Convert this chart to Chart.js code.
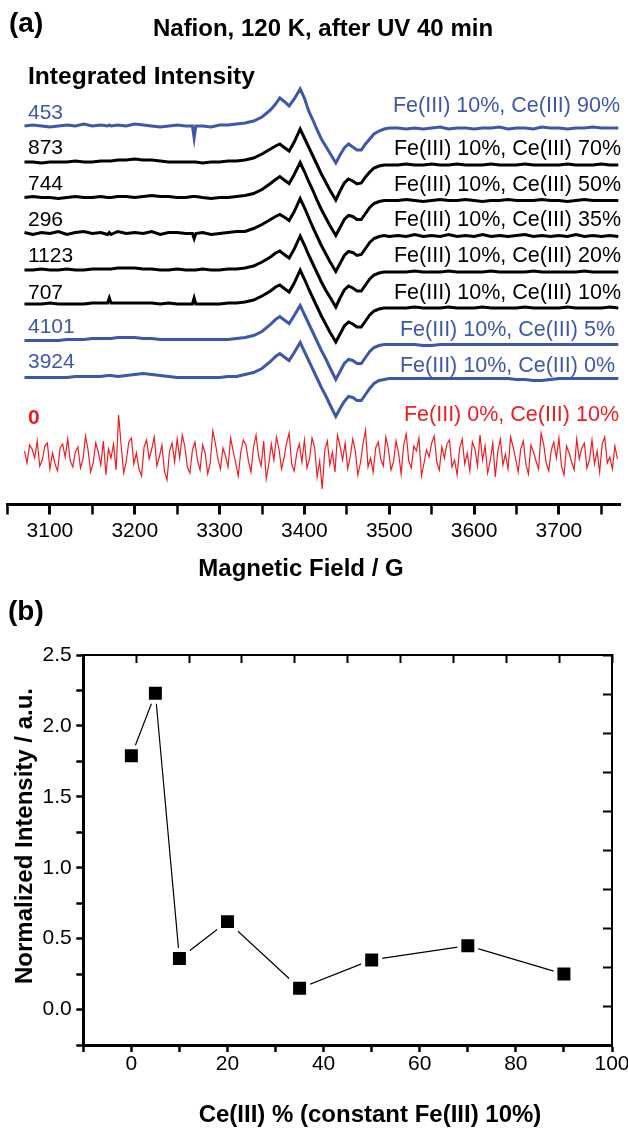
<!DOCTYPE html>
<html lang="en">
<head>
<meta charset="UTF-8">
<title>Nafion EPR</title>
<script src="https://cdn.jsdelivr.net/npm/chart.js"></script>
<style>
  body { margin: 0; background: #fff; }
  canvas { display: block; }
</style>
</head>
<body>
<canvas id="chartA" width="628" height="590"></canvas>
<canvas id="chartB" width="628" height="539"></canvas>
<script>
// ---------- panel (a): EPR spectra ----------
// magnetic field (G) of the sampled points, shared by the 8 Fe(III) traces
const field = [
  3070,3080,3090,3100,3110,3120,3130,3140,3150,3160,3168,3170,3172,3180,3190,3200,3210,3220,3230,3240,3250,3260,3268,3270,3272,3280,3290,3300,3310,3320,
  3330,3340,3350,3360,3366,3371,3377,3382,3388,3395,3400,3405,3410,3415,3420,3425,3430,3437,3442,3447,3452,3457,3462,3467,3472,3477,3482,3488,3494,3500,
  3510,3520,3530,3540,3550,3560,3570,3580,3590,3600,3610,3620,3630,3640,3650,3660,3670,3680,3690,3700,3710,3720,3730,3740,3750,3760,3770
];
// signal (relative to its own baseline)
const ce90 = [
  0,1,0,-1,0,1,0,2,0,1,0,1,0,1,0,2,1,0,-1,0,1,0,0,-12,0,0,-1,1,1,2,
  3,5,9,16,22,28,24,20,27,37,28,15,6,-4,-13,-20,-27,-37,-29,-22,-18,-21,-24,-24,-18,-13,-8,-5,-3,-2,
  -2,-3,-2,-3,-2,-1,-3,-2,-2,-3,-2,-2,-1,-3,-2,-2,-3,-1,-2,-2,-3,-2,-2,-1,-2,-2,-2
];
const ce70 = [
  0,0,-1,0,0,0,1,0,0,1,1,1,1,2,2,3,2,2,1,0,0,0,0,0,0,-1,0,0,1,1,
  2,4,8,13,16,18,14,11,20,33,24,15,6,-3,-12,-20,-28,-38,-29,-21,-17,-19,-22,-21,-15,-10,-6,-4,-3,-3,
  -3,-2,-3,-3,-2,-3,-3,-2,-3,-3,-3,-2,-3,-3,-3,-2,-3,-3,-3,-3,-2,-3,-3,-3,-2,-3,-3
];
const ce50 = [
  0,1,0,0,-1,0,1,0,0,1,0,0,0,1,1,0,1,2,1,1,0,0,1,1,1,0,-1,0,0,1,
  2,4,8,14,18,21,17,14,23,35,26,16,7,-3,-12,-20,-28,-38,-30,-22,-18,-19,-22,-22,-16,-10,-6,-4,-3,-3,
  -3,-2,-3,-4,-3,-2,-3,-3,-2,-3,-4,-3,-3,-2,-3,-3,-3,-2,-3,-3,-4,-3,-2,-3,-3,-3,-3
];
const ce35 = [
  1,-1,1,0,2,-1,1,2,0,1,-1,1,-1,2,0,1,0,2,-1,1,1,0,0,-5,0,1,-1,0,1,2,
  2,5,9,14,17,19,16,13,22,35,26,16,6,-3,-12,-20,-28,-38,-30,-22,-18,-19,-22,-21,-15,-9,-5,-3,-2,-3,
  -2,-3,-1,-3,-2,-3,-1,-3,-2,-3,-1,-3,-2,-3,-2,-1,-3,-2,-3,-2,-3,-1,-3,-2,-3,-2,-3
];
const ce20 = [
  0,0,1,0,0,1,0,0,1,1,1,1,1,2,2,2,1,1,0,0,1,0,0,0,0,1,0,0,1,1,
  2,4,8,13,17,19,15,12,21,34,25,15,6,-3,-12,-20,-27,-37,-28,-20,-16,-18,-21,-21,-15,-9,-5,-3,-2,-2,
  -2,-2,-1,-2,-2,-2,-1,-2,-2,-2,-2,-1,-2,-2,-2,-2,-1,-2,-2,-2,-2,-2,-1,-2,-2,-2,-2
];
const ce10 = [
  0,0,0,1,0,0,0,0,1,1,1,6,1,1,1,1,1,1,0,1,0,0,0,6,0,0,0,0,1,1,
  2,4,8,13,17,19,15,12,21,34,25,15,6,-3,-12,-20,-28,-38,-30,-22,-18,-20,-23,-23,-17,-11,-7,-5,-4,-4,
  -4,-4,-3,-4,-4,-4,-3,-4,-4,-4,-3,-4,-4,-4,-4,-3,-4,-4,-4,-4,-3,-4,-4,-4,-4,-3,-4
];
const ce5 = [
  0,0,0,0,0,1,1,1,2,2,2,2,2,3,3,3,2,2,1,1,1,1,1,1,1,1,1,1,1,2,
  3,5,9,16,21,24,20,17,25,35,26,17,8,-1,-10,-18,-27,-39,-31,-23,-19,-20,-23,-23,-17,-11,-7,-5,-4,-4,
  -4,-4,-4,-5,-5,-4,-4,-4,-4,-4,-4,-4,-4,-4,-4,-4,-4,-4,-4,-4,-4,-4,-4,-4,-4,-4,-4
];
const ce0 = [
  0,0,0,0,0,0,1,1,1,1,2,2,2,1,2,3,4,3,2,1,0,0,0,0,0,0,0,0,1,1,
  3,5,9,16,21,24,20,17,25,35,26,17,8,-1,-10,-18,-27,-39,-31,-24,-19,-20,-23,-23,-17,-11,-6,-3,-2,-1,
  -1,-1,-1,-1,-1,-1,-1,-1,-1,-1,-1,-1,-1,-1,-2,-2,-3,-3,-2,-1,-1,-1,-1,-1,-1,-1,-1
];
// Fe(III) 0%, Ce(III) 10%: noise only
const redField = [
  3070,3073,3076,3079,3082,3085,3088,3091,3094,3097,3100,3103,3106,3109,3112,3115,3118,3121,3124,3127,
  3130,3133,3136,3139,3142,3145,3148,3151,3154,3157,3160,3163,3166,3169,3172,3175,3178,3181,3184,3187,
  3190,3193,3196,3199,3202,3205,3208,3211,3214,3217,3220,3223,3226,3229,3232,3235,3238,3241,3244,3247,
  3250,3253,3256,3259,3262,3265,3268,3271,3274,3277,3280,3283,3286,3289,3292,3295,3298,3301,3304,3307,
  3310,3313,3316,3319,3322,3325,3328,3331,3334,3337,3340,3343,3346,3349,3352,3355,3358,3361,3364,3367,
  3370,3373,3376,3379,3382,3385,3388,3391,3394,3397,3400,3403,3406,3409,3412,3415,3418,3421,3424,3427,
  3430,3433,3436,3439,3442,3445,3448,3451,3454,3457,3460,3463,3466,3469,3472,3475,3478,3481,3484,3487,
  3490,3493,3496,3499,3502,3505,3508,3511,3514,3517,3520,3523,3526,3529,3532,3535,3538,3541,3544,3547,
  3550,3553,3556,3559,3562,3565,3568,3571,3574,3577,3580,3583,3586,3589,3592,3595,3598,3601,3604,3607,
  3610,3613,3616,3619,3622,3625,3628,3631,3634,3637,3640,3643,3646,3649,3652,3655,3658,3661,3664,3667,
  3670,3673,3676,3679,3682,3685,3688,3691,3694,3697,3700,3703,3706,3709,3712,3715,3718,3721,3724,3727,
  3730,3733,3736,3739,3742,3745,3748,3751,3754,3757,3760,3763,3766,3769
];
const fe0ce10 = [
  4,-8,10,6,-3,14,-11,-5,9,12,-14,2,-9,-16,7,11,-2,16,-6,-12,
  3,8,-13,-4,19,5,-17,-8,12,3,-10,14,-20,6,-3,11,-15,40,9,-18,
  -6,13,17,-9,2,-14,-21,8,15,-4,6,18,-11,-2,10,-16,-25,4,12,-7,
  16,-3,20,9,-12,-18,5,13,-6,-15,10,2,-19,-8,24,12,-4,-14,7,-1,
  -12,17,4,-8,-21,3,15,10,-6,-17,8,20,-2,-11,14,-24,-9,11,-5,18,
  6,-14,-3,12,22,-9,-16,2,11,-7,15,-13,-4,17,8,-22,-6,-34,5,14,
  -10,3,-17,20,9,-5,12,-14,-2,16,4,-20,-8,11,25,-12,-3,-17,7,13,
  -4,-11,18,6,-15,-7,14,2,-19,10,21,-6,-13,9,4,17,-21,-8,5,-2,
  12,19,-7,-15,8,-3,11,15,-12,-5,-20,7,16,-9,2,-16,13,6,-11,20,
  -5,9,-18,-6,12,-22,4,16,-10,1,-14,18,8,-4,-17,6,14,-9,-19,10,
  3,-6,-14,22,11,-8,-16,5,13,-3,17,-11,-20,9,2,-7,-15,16,-4,7,
  12,-13,-5,15,-9,4,-17,11,18,-8,-2,-14,9,-4
];
// vertical stacking offsets of the traces (top to bottom)
const traceOffsets = [378.5, 342.5, 307, 271, 234.5, 200.5, 164, 127, 49.5];
const intensityLabels = ['453', '873', '744', '296', '1123', '707', '4101', '3924', '0'];
const sampleLabels = [
  'Fe(III) 10%, Ce(III) 90%', 'Fe(III) 10%, Ce(III) 70%', 'Fe(III) 10%, Ce(III) 50%',
  'Fe(III) 10%, Ce(III) 35%', 'Fe(III) 10%, Ce(III) 20%', 'Fe(III) 10%, Ce(III) 10%',
  'Fe(III) 10%, Ce(III) 5%', 'Fe(III) 10%, Ce(III) 0%', 'Fe(III) 0%, Ce(III) 10%'
];

// ---------- panel (b): normalized intensity ----------
const ceContent = [0, 5, 10, 20, 35, 50, 70, 90];
const normIntensity = [1.79, 2.23, 0.36, 0.62, 0.15, 0.35, 0.45, 0.25];

// ---------- styles / layout ----------
const FONT = "'Liberation Sans', Arial, sans-serif";
const BLUE = '#3f57a8', RED = '#ed1c24', BLACK = '#000';
const traceColors = [BLUE, BLACK, BLACK, BLACK, BLACK, BLACK, BLUE, BLUE, RED];
const numberDy = [-7, -8, -7.5, -7.5, -8, -5, -7.5, -9.5, -31];
const sampleDy = [-14.5, -7.5, -7, -7.5, -8, -5, -4.5, -5.5, -34];
const sampleRight = [620, 621, 621, 621, 621, 621, 615, 615, 619];

Chart.defaults.font.family = FONT;
Chart.defaults.color = BLACK;

const spectra = [ce90, ce70, ce50, ce35, ce20, ce10, ce5, ce0];
const datasetsA = spectra.map((vals, i) => ({
  data: field.map((f, j) => ({ x: f, y: vals[j] + traceOffsets[i] })),
  borderColor: traceColors[i],
  borderWidth: 3,
  pointRadius: 0,
  tension: 0
}));
datasetsA.push({
  data: redField.map((f, j) => ({ x: f, y: fe0ce10[j] + traceOffsets[8] })),
  borderColor: RED,
  borderWidth: 1.2,
  pointRadius: 0,
  tension: 0
});

const textA = {
  id: 'textA',
  afterDraw(chart) {
    const ctx = chart.ctx;
    const y = chart.scales.y;
    ctx.save();
    ctx.fillStyle = BLACK;
    ctx.textBaseline = 'alphabetic';
    ctx.font = 'bold 28px ' + FONT;
    ctx.textAlign = 'left';
    ctx.fillText('(a)', 9, 32);
    ctx.font = 'bold 24px ' + FONT;
    ctx.textAlign = 'center';
    ctx.fillText('Nafion, 120 K, after UV 40 min', 323, 36);
    ctx.fillText('Magnetic Field / G', 301, 576);
    ctx.textAlign = 'left';
    ctx.font = 'bold 24.6px ' + FONT;
    ctx.fillText('Integrated Intensity', 28, 84);
    traceOffsets.forEach((off, i) => {
      const py = y.getPixelForValue(off);
      ctx.fillStyle = traceColors[i];
      ctx.textAlign = 'left';
      ctx.font = (i === 8 ? 'bold ' : '') + '21px ' + FONT;
      ctx.fillText(intensityLabels[i], 28, py + numberDy[i]);
      ctx.textAlign = 'right';
      ctx.font = '21.5px ' + FONT;
      ctx.fillText(sampleLabels[i], sampleRight[i], py + sampleDy[i]);
    });
    ctx.restore();
  }
};

new Chart(document.getElementById('chartA'), {
  type: 'line',
  data: { datasets: datasetsA },
  options: {
    responsive: false,
    animation: false,
    layout: { padding: { top: 60, left: 7.5, right: 8, bottom: 0 } },
    plugins: { legend: { display: false }, tooltip: { enabled: false } },
    scales: {
      x: {
        type: 'linear', min: 3050, max: 3772,
        border: { color: BLACK, width: 3 },
        grid: {
          drawOnChartArea: false, tickLength: 10, tickColor: BLACK,
          tickWidth: c => (c.tick && c.tick.value % 100 === 0 ? 3 : 2.5)
        },
        ticks: {
          stepSize: 50, includeBounds: false, autoSkip: false, maxRotation: 0,
          padding: 4, font: { size: 21 }, color: BLACK,
          callback: v => (v % 100 === 0 ? String(v) : '')
        },
        afterFit: s => { s.height = 85.5; s.paddingLeft = 0; s.paddingRight = 0; }
      },
      y: { display: false, min: 0, max: 444.5 }
    }
  },
  plugins: [textA]
});

const textB = {
  id: 'textB',
  afterDraw(chart) {
    const ctx = chart.ctx;
    ctx.save();
    ctx.fillStyle = BLACK;
    ctx.textBaseline = 'alphabetic';
    ctx.font = 'bold 28px ' + FONT;
    ctx.textAlign = 'left';
    ctx.fillText('(b)', 8, 30);
    ctx.font = 'bold 24px ' + FONT;
    ctx.textAlign = 'center';
    ctx.fillText('Ce(III) % (constant Fe(III) 10%)', 370, 532);
    ctx.translate(32, 246);
    ctx.rotate(-Math.PI / 2);
    ctx.fillText('Normalized Intensity / a.u.', 0, 0);
    ctx.restore();
  }
};

new Chart(document.getElementById('chartB'), {
  type: 'line',
  data: {
    datasets: [{
      data: ceContent.map((c, i) => ({ x: c, y: normIntensity[i] })),
      borderColor: BLACK,
      borderWidth: 1.2,
      pointStyle: 'rect',
      pointRadius: 12,
      pointBorderWidth: 4,
      pointBorderColor: '#fff',
      pointBackgroundColor: BLACK,
      tension: 0
    }]
  },
  options: {
    responsive: false,
    animation: false,
    layout: { padding: { top: 65, left: 0, right: 13.7, bottom: 0 } },
    plugins: { legend: { display: false }, tooltip: { enabled: false } },
    scales: {
      x: {
        type: 'linear', position: 'bottom', min: -10, max: 100,
        border: { color: BLACK, width: 3 },
        grid: { drawOnChartArea: false, tickLength: 7, tickWidth: 2.5, tickColor: BLACK },
        ticks: {
          stepSize: 10, autoSkip: false, maxRotation: 0, padding: 0,
          font: { size: 21 }, color: BLACK,
          callback: v => (v >= 0 && v % 20 === 0 ? String(v) : '')
        },
        afterFit: s => { s.height = 84; s.paddingLeft = 0; s.paddingRight = 0; }
      },
      xTop: {
        type: 'linear', position: 'top', min: 0, max: 10,
        border: { color: BLACK, width: 2 },
        grid: { drawOnChartArea: false, tickLength: -8, tickWidth: 2, tickColor: BLACK },
        ticks: { display: false, stepSize: 1 },
        afterFit: s => { s.height = 0; }
      },
      y: {
        position: 'left', min: -0.25, max: 2.5,
        border: { color: BLACK, width: 3 },
        grid: { drawOnChartArea: false, tickLength: 7, tickWidth: 2.5, tickColor: BLACK },
        ticks: {
          stepSize: 0.25, autoSkip: false, padding: 4.6, font: { size: 21 }, color: BLACK,
          callback: v => (Math.abs(v * 2 - Math.round(v * 2)) < 1e-6 ? v.toFixed(1) : '')
        },
        afterFit: s => { s.width = 83.3; }
      },
      yRight: {
        position: 'right', min: 0, max: 10,
        border: { color: BLACK, width: 2 },
        grid: { drawOnChartArea: false, tickLength: -9, tickWidth: 2, tickColor: BLACK },
        ticks: { display: false, stepSize: 1 },
        afterFit: s => { s.width = 0; }
      }
    }
  },
  plugins: [textB]
});
</script>
</body>
</html>
